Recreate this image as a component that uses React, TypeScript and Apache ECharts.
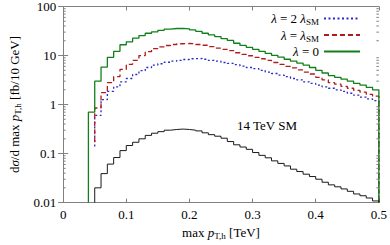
import React, { useEffect, useRef } from "react";
import * as echarts from "echarts";

// ---- data (bin width 10 GeV = 0.01 TeV, values are bin heights in fb/10 GeV) ----
const BIN_WIDTH = 0.01;
const X_MAX = 0.5;

const lambda0First = 0.04;
const lambda0 = [
  0.7, 3.0, 5.8, 9.2, 12.2, 16.6, 19, 22.6, 25.5, 28.5,
  30.5, 32.6, 34.5, 35.6, 35.8, 35, 33.3, 31.2, 28.5, 26.3,
  24.4, 22.2, 20.3, 17.8, 16.1, 14.7, 13.4, 12.2, 11.1, 10.1,
  9.3, 8.4, 7.7, 7.0, 6.4, 5.7, 5.0, 4.4, 3.9, 3.6,
  3.3, 3.0, 2.7, 2.5, 2.25, 2.0,
];

const lambdaSMFirst = 0.05;
const lambdaSM = [
  0.85, 1.75, 2.8, 3.7, 5.2, 6.6, 8.0, 10.0, 12.0, 13.8,
  15.0, 16.0, 16.8, 17.4, 17.6, 17.4, 16.8, 16.2, 15.2, 14.2,
  13.4, 12.6, 11.4, 10.6, 9.9, 9.2, 8.6, 8.0, 7.2, 6.6,
  6.0, 5.6, 5.1, 4.6, 4.2, 3.6, 3.2, 2.8, 2.6, 2.35,
  2.15, 1.95, 1.8, 1.62, 1.48,
];

const lambda2SMFirst = 0.05;
const lambda2SM = [
  0.6, 1.26, 1.85, 2.3, 2.9, 3.4, 4.1, 4.9, 5.7, 6.4,
  6.8, 7.3, 7.7, 8.0, 8.3, 8.6, 8.7, 8.4, 8.0, 7.7,
  7.2, 6.9, 6.5, 6.1, 5.7, 5.4, 5.0, 4.6, 4.3, 4.0,
  3.7, 3.4, 3.2, 2.9, 2.7, 2.5, 2.3, 2.15, 2.0, 1.85,
  1.7, 1.55, 1.42, 1.3, 1.2,
];

const sm14First = 0.05;
const sm14 = [
  0.02, 0.039, 0.061, 0.083, 0.115, 0.146, 0.17, 0.2, 0.235, 0.26,
  0.28, 0.3, 0.31, 0.316, 0.31, 0.3, 0.29, 0.265, 0.243, 0.226,
  0.206, 0.176, 0.151, 0.136, 0.122, 0.105, 0.092, 0.082, 0.071, 0.063,
  0.056, 0.048, 0.043, 0.038, 0.034, 0.03, 0.026, 0.023, 0.021, 0.019,
  0.017, 0.015, 0.0138, 0.0124, 0.0108,
];

// level at which each histogram line begins (left vertical edge)
const lambda0Start = 0.01;
const lambdaSMStart = 0.17;
const lambda2SMStart = 0.14;
const sm14Start = 0.01;

const xTickLabels = ["0", "0.1", "0.2", "0.3", "0.4", "0.5"];
const yTickLabels = ["0.01", "0.1", "1", "10", "100"];
const yDecades = [0.01, 0.1, 1, 10];
const yMinorMultipliers = [2, 3, 4, 5, 6, 7, 8, 9];

const legendNames = ["lam2SM", "lamSM", "lam0"];
const legendText: Record<string, string> = {
  lam2SM: "{i|λ}{t| = 2 }{i|λ}{s|SM}",
  lamSM: "{i|λ}{t| = }{i|λ}{s|SM}",
  lam0: "{i|λ}{t| = 0}",
};

const COLORS = {
  green: "#12801a",
  red: "#b01c1c",
  blue: "#2a2ac4",
  black: "#1a1a1a",
  frame: "#808080",
};

const FONT = "Liberation Serif";
const FS = 13;

function histPoints(first: number, values: number[], start: number): number[][] {
  const pts: number[][] = [[first, start]];
  values.forEach((v, i) => {
    const x0 = +(first + i * BIN_WIDTH).toFixed(3);
    const x1 = +(first + (i + 1) * BIN_WIDTH).toFixed(3);
    pts.push([x0, v]);
    pts.push([x1, v]);
  });
  pts.push([X_MAX, 0.01]);
  return pts;
}

const richBase = {
  t: { fontFamily: FONT, fontSize: FS, color: "#000", lineHeight: 16 },
  i: { fontFamily: FONT, fontSize: FS, fontStyle: "italic", color: "#000", lineHeight: 16 },
  s: { fontFamily: FONT, fontSize: 9, color: "#000", lineHeight: 16, verticalAlign: "bottom" },
};

export default function App() {
  const ref = useRef<HTMLDivElement>(null);

  useEffect(() => {
    document.body.style.margin = "0";
    if (!ref.current) return;
    const chart = echarts.init(ref.current, undefined, { renderer: "svg" });

    const minorTicks: number[] = [];
    yDecades.forEach((d) => yMinorMultipliers.forEach((m) => minorTicks.push(+(d * m).toPrecision(3))));

    const axisLineStyle = { color: COLORS.frame, width: 1 };

    const option: any = {
      animation: false,
      grid: { left: 59, right: 10, top: 5, bottom: 39.5, containLabel: false },
      textStyle: { fontFamily: FONT },
      xAxis: [
        {
          type: "value",
          min: 0,
          max: 0.5,
          interval: 0.1,
          position: "bottom",
          axisLine: { show: true, lineStyle: axisLineStyle },
          axisTick: { show: true, inside: true, length: 4, lineStyle: axisLineStyle },
          splitLine: { show: false },
          axisLabel: {
            color: "#000",
            fontFamily: FONT,
            fontSize: FS,
            margin: 5,
            formatter: (v: number) => xTickLabels[Math.round(v * 10)] ?? "",
          },
          name: "{t|max }{i|p}{s|T,h}{t| [TeV]}",
          nameLocation: "middle",
          nameGap: 14,
          nameTextStyle: { rich: richBase },
        },
        {
          type: "value",
          min: 0,
          max: 0.5,
          interval: 0.1,
          position: "top",
          axisLine: { show: true, lineStyle: axisLineStyle },
          axisTick: { show: true, inside: true, length: 4, lineStyle: axisLineStyle },
          splitLine: { show: false },
          axisLabel: { show: false },
        },
      ],
      yAxis: [
        {
          type: "log",
          logBase: 10,
          min: 0.01,
          max: 100,
          position: "left",
          axisLine: { show: true, lineStyle: axisLineStyle },
          axisTick: { show: true, inside: true, length: 5, lineStyle: axisLineStyle },
          splitLine: { show: false },
          axisLabel: {
            color: "#000",
            fontFamily: FONT,
            fontSize: FS,
            margin: 7,
            formatter: (v: number) => yTickLabels[Math.round(Math.log10(v)) + 2] ?? "",
          },
          name: "{t|d}{i|σ}{t|/d max }{i|p}{s|T,h}{t| [fb/10 GeV]}",
          nameLocation: "middle",
          nameGap: 40,
          nameTextStyle: { rich: richBase },
        },
        {
          type: "log",
          logBase: 10,
          min: 0.01,
          max: 100,
          position: "right",
          axisLine: { show: true, lineStyle: axisLineStyle },
          axisTick: { show: true, inside: true, length: 5, lineStyle: axisLineStyle },
          splitLine: { show: false },
          axisLabel: { show: false },
        },
      ],
      legend: {
        orient: "vertical",
        right: 24,
        top: 7,
        align: "right",
        itemWidth: 36,
        itemHeight: 10,
        itemGap: 2,
        data: legendNames,
        formatter: (name: string) => legendText[name],
        textStyle: { rich: richBase },
        itemStyle: { opacity: 0 },
      },
      graphic: [
        {
          type: "text",
          x: 267,
          y: 125,
          style: {
            text: "14 TeV SM",
            font: `${FS}px ${FONT}`,
            fill: "#000",
            textAlign: "center",
            textVerticalAlign: "middle",
          },
          silent: true,
        },
      ],
      series: [
        {
          name: "lam2SM",
          type: "line",
          data: histPoints(lambda2SMFirst, lambda2SM, lambda2SMStart),
          symbol: "none",
          clip: true,
          color: COLORS.blue,
          lineStyle: { color: COLORS.blue, width: 1.3, type: [2, 2.5] },
          z: 2,
        },
        {
          name: "lamSM",
          type: "line",
          data: histPoints(lambdaSMFirst, lambdaSM, lambdaSMStart),
          symbol: "none",
          clip: true,
          color: COLORS.red,
          lineStyle: { color: COLORS.red, width: 1.3, type: [5, 3] },
          z: 3,
        },
        {
          name: "lam0",
          type: "line",
          data: histPoints(lambda0First, lambda0, lambda0Start),
          symbol: "none",
          clip: true,
          color: COLORS.green,
          lineStyle: { color: COLORS.green, width: 1.3 },
          z: 4,
        },
        {
          name: "sm14",
          type: "line",
          data: histPoints(sm14First, sm14, sm14Start),
          symbol: "none",
          clip: true,
          color: COLORS.black,
          lineStyle: { color: COLORS.black, width: 1 },
          z: 4,
        },
        {
          name: "minorTicks",
          type: "custom",
          silent: true,
          xAxisIndex: 0,
          yAxisIndex: 0,
          data: minorTicks.map((v) => [0, v]),
          renderItem: (_params: any, api: any) => {
            const v = api.value(1);
            const l = api.coord([0, v]);
            const r = api.coord([X_MAX, v]);
            const st = { stroke: COLORS.frame, lineWidth: 1 };
            return {
              type: "group",
              children: [
                { type: "line", shape: { x1: l[0], y1: l[1], x2: l[0] + 2.5, y2: l[1] }, style: st },
                { type: "line", shape: { x1: r[0] - 2.5, y1: r[1], x2: r[0], y2: r[1] }, style: st },
              ],
            };
          },
          z: 5,
        },
      ],
    };

    chart.setOption(option);
    return () => chart.dispose();
  }, []);

  return <div ref={ref} style={{ width: 390, height: 245 }} />;
}
